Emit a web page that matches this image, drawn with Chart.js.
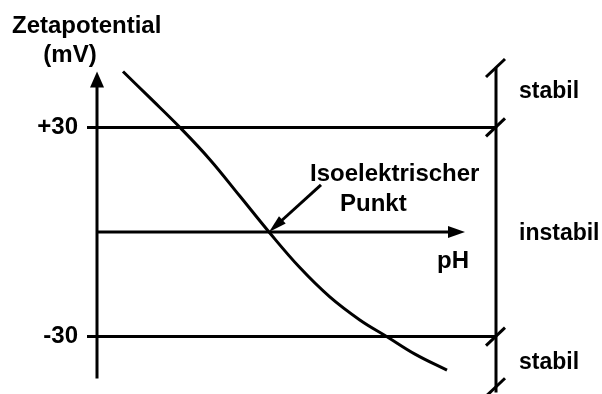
<!DOCTYPE html>
<html>
<head>
<meta charset="utf-8">
<script src="https://cdn.jsdelivr.net/npm/chart.js@4/dist/chart.umd.min.js"></script>
<style>
  html, body { margin: 0; padding: 0; background: #fff; }
  canvas { display: block; }
</style>
</head>
<body>
<canvas id="chart" width="602" height="394"></canvas>
<script>
// pH along the curve and zeta potential (mV)
const phValues = [2.65, 3.3, 4.07, 4.82, 5.57, 6.3, 7.07, 7.82, 8.57, 9.25, 9.95, 10.75];
const zetaValues = [46, 38.7, 30, 20.8, 10.3, 0, -10.2, -18.6, -25.2, -30, -35, -39.6];

const tickValues = [-30, 30];
const zoneLabels = ["stabil", "instabil", "stabil"];
const isoPoint = { x: 6.3, y: 0 };

const FONT = "'Liberation Sans', Arial, sans-serif";

const arrow = (ctx, x1, y1, x2, y2, len, half) => {
  const a = Math.atan2(y2 - y1, x2 - x1);
  ctx.beginPath();
  ctx.moveTo(x1, y1);
  ctx.lineTo(x2 - Math.cos(a) * (len - 2), y2 - Math.sin(a) * (len - 2));
  ctx.stroke();
  ctx.beginPath();
  ctx.moveTo(x2, y2);
  ctx.lineTo(x2 - Math.cos(a) * len - Math.sin(a) * half, y2 - Math.sin(a) * len + Math.cos(a) * half);
  ctx.lineTo(x2 - Math.cos(a) * len + Math.sin(a) * half, y2 - Math.sin(a) * len - Math.cos(a) * half);
  ctx.closePath();
  ctx.fill();
};

const decorations = {
  id: "decorations",
  afterDatasetsDraw(chart) {
    const { ctx, chartArea, scales: { x, y } } = chart;
    ctx.save();
    ctx.strokeStyle = "#000";
    ctx.fillStyle = "#000";
    ctx.lineWidth = 3;

    // zeta potential axis with arrow
    const ax = chartArea.left;
    arrow(ctx, ax, y.getPixelForValue(-42), ax, y.getPixelForValue(46), 16, 7);

    // pH axis with arrow
    const y0 = y.getPixelForValue(0);
    arrow(ctx, ax, y0, x.getPixelForValue(11.2), y0, 17, 6);

    // stability bar on the right with slash marks
    const bx = chartArea.right - 1;
    ctx.beginPath();
    ctx.moveTo(bx, y.getPixelForValue(47));
    ctx.lineTo(bx, y.getPixelForValue(-46));
    ctx.stroke();
    [47, 30, -30, -44.5].forEach(v => {
      const py = y.getPixelForValue(v);
      ctx.beginPath();
      ctx.moveTo(bx - 10, py + 9);
      ctx.lineTo(bx + 9, py - 9);
      ctx.stroke();
    });

    // callout to the isoelectric point
    const ix = x.getPixelForValue(isoPoint.x);
    const iy = y.getPixelForValue(isoPoint.y);
    arrow(ctx, ix + 52, iy - 47, ix, iy, 18, 5);

    ctx.font = "bold 24px " + FONT;
    ctx.textBaseline = "alphabetic";
    ctx.textAlign = "left";
    ctx.fillText("Zetapotential", 12, 33);
    ctx.textAlign = "center";
    ctx.fillText("(mV)", 70, 62);
    ctx.textAlign = "left";
    ctx.fillText("Isoelektrischer", 310, 181);
    ctx.fillText("Punkt", 340, 211);
    ctx.fillText("pH", 437, 268);

    ctx.font = "bold 23px " + FONT;
    const zoneY = [38.4, -2.3, -39.3];
    zoneLabels.forEach((t, i) => {
      ctx.fillText(t, chartArea.right + 22, y.getPixelForValue(zoneY[i]));
    });
    ctx.restore();
  }
};

new Chart(document.getElementById("chart").getContext("2d"), {
  type: "line",
  data: {
    datasets: [
      {
        data: phValues.map((p, i) => ({ x: p, y: zetaValues[i] })),
        borderColor: "#000",
        borderWidth: 3,
        pointRadius: 0,
        tension: 0.4,
        fill: false,
      },
    ],
  },
  options: {
    responsive: false,
    animation: false,
    devicePixelRatio: 1,
    layout: { padding: { left: 0, right: 105, top: 61, bottom: 5 } },
    plugins: {
      legend: { display: false },
      tooltip: { enabled: false },
    },
    scales: {
      x: { type: "linear", min: 2, max: 12, display: false },
      y: {
        type: "linear",
        min: -45,
        max: 49,
        afterFit(scale) {
          scale.width = 97;
          // tick labels sit well inside the area, no extra room needed
          scale.paddingTop = 0;
          scale.paddingBottom = 0;
        },
        afterBuildTicks(scale) { scale.ticks = tickValues.map(v => ({ value: v })); },
        ticks: {
          padding: 9,
          color: "#000",
          font: { family: FONT, size: 24, weight: "bold" },
          callback: v => (v > 0 ? "+" + v : String(v)),
        },
        grid: { color: "#000", lineWidth: 3, tickLength: 10 },
        border: { display: false },
      },
    },
  },
  plugins: [decorations],
});
</script>
</body>
</html>
